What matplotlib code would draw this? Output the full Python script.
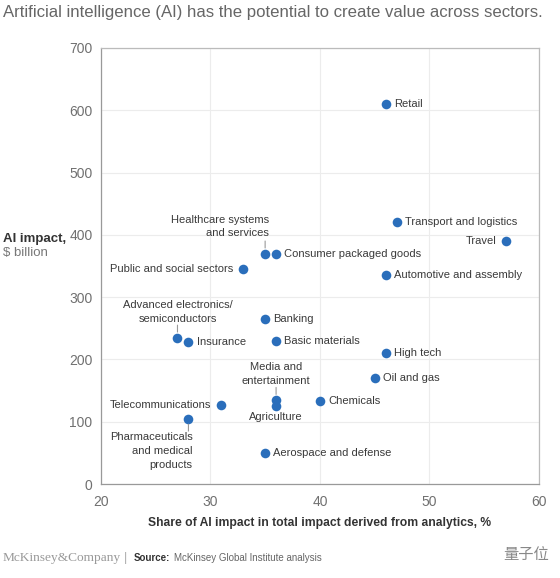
import matplotlib.pyplot as plt

plt.rcParams['font.family'] = ['Liberation Sans', 'Noto Sans CJK SC', 'DejaVu Sans']

# Data
sectors = ['Retail', 'Transport and logistics', 'Travel', 'Healthcare systems\nand services',
           'Consumer packaged goods', 'Public and social sectors', 'Automotive and assembly',
           'Banking', 'Basic materials', 'Advanced electronics/\nsemiconductors', 'Insurance',
           'High tech', 'Oil and gas', 'Media and\nentertainment', 'Agriculture', 'Chemicals',
           'Telecommunications', 'Pharmaceuticals\nand medical\nproducts', 'Aerospace and defense']
share = [46, 47, 57, 35, 36, 33, 46, 35, 36, 27, 28, 46, 45, 36, 36, 40, 31, 28, 35]
impact = [610, 420, 390, 370, 370, 345, 335, 265, 230, 235, 228, 210, 170, 135, 125, 133, 127, 105, 50]

# label placement: (dx, dy, ha, va, leader)
place = {
    'Retail': (6, 0, 'left', 'center', False),
    'Transport and logistics': (6, 0, 'left', 'center', False),
    'Travel': (-7, 0, 'right', 'center', False),
    'Healthcare systems\nand services': (3, 11, 'right', 'bottom', True),
    'Consumer packaged goods': (6, 0, 'left', 'center', False),
    'Public and social sectors': (-7, 0, 'right', 'center', False),
    'Automotive and assembly': (6, 0, 'left', 'center', False),
    'Banking': (6, 0, 'left', 'center', False),
    'Basic materials': (6, 0, 'left', 'center', False),
    'Advanced electronics/\nsemiconductors': (0, 10, 'center', 'bottom', True),
    'Insurance': (6, 0, 'left', 'center', False),
    'High tech': (6, 0, 'left', 'center', False),
    'Oil and gas': (6, 0, 'left', 'center', False),
    'Media and\nentertainment': (0, 10, 'center', 'bottom', True),
    'Agriculture': (0, -4, 'center', 'top', False),
    'Chemicals': (6, 0, 'left', 'center', False),
    'Telecommunications': (-7, 0, 'right', 'center', False),
    'Pharmaceuticals\nand medical\nproducts': (3, -10, 'right', 'top', True),
    'Aerospace and defense': (6, 0, 'left', 'center', False),
}

fig = plt.figure(figsize=(5.6, 5.78), dpi=100)
ax = fig.add_axes([0.180, 0.1626, 0.7825, 0.7544])

ax.scatter(share, impact, s=48, color='#2a6ebb', zorder=3, linewidths=0)

for name, x, y in zip(sectors, share, impact):
    dx, dy, ha, va, leader = place[name]
    ax.annotate(name, (x, y), xytext=(dx, dy), textcoords='offset points',
                ha=ha, va=va, fontsize=8, color='#3a3a3a', linespacing=1.45,
                multialignment='right' if ha == 'right' else 'center')
    if leader:
        sign = 1 if dy > 0 else -1
        ax.annotate('', xy=(x, y), xytext=(0, sign * 9), textcoords='offset points',
                    arrowprops=dict(arrowstyle='-', color='#999999', lw=0.8,
                                    shrinkA=0, shrinkB=4))

ax.set_xlim(20, 60)
ax.set_ylim(0, 700)
ax.set_xticks([20, 30, 40, 50, 60])
ax.set_yticks(range(0, 701, 100))
ax.grid(True, color='#ececec', lw=0.8, zorder=0)
ax.set_axisbelow(True)
for s in ax.spines.values():
    s.set_color('#bbbbbb')
    s.set_linewidth(0.9)
ax.spines['left'].set_color('#999999')
ax.spines['bottom'].set_color('#999999')
ax.tick_params(length=0, labelsize=10, colors='#707070', pad=6)
ax.tick_params(axis='x', pad=8)

ax.set_xlabel('Share of AI impact in total impact derived from analytics, %',
              fontsize=8.7, color='#333333', fontweight='bold', labelpad=6)

fig.text(0.005, 0.582, 'AI impact,', fontsize=9.5, fontweight='bold', color='#333333')
fig.text(0.005, 0.557, '$ billion', fontsize=9.5, color='#777777')

fig.text(0.005, 0.992, 'Artificial intelligence (AI) has the potential to create value across sectors.',
         fontsize=12.1, color='#666666', va='top')

fig.text(0.005, 0.035, 'McKinsey&Company', fontsize=9.6, color='#999999',
         family='Liberation Serif', va='center')
fig.text(0.222, 0.035, '|', fontsize=9, color='#aaaaaa', va='center')
fig.text(0.238, 0.035, 'Source:', fontsize=7, color='#333333', fontweight='bold', va='center')
fig.text(0.310, 0.035, 'McKinsey Global Institute analysis', fontsize=7, color='#666666', va='center')
fig.text(0.98, 0.04, '量子位', fontsize=11, color='#888888', ha='right', va='center',
         family=['Noto Sans CJK SC', 'DejaVu Sans'])

fig.savefig('out.png', dpi=100)
